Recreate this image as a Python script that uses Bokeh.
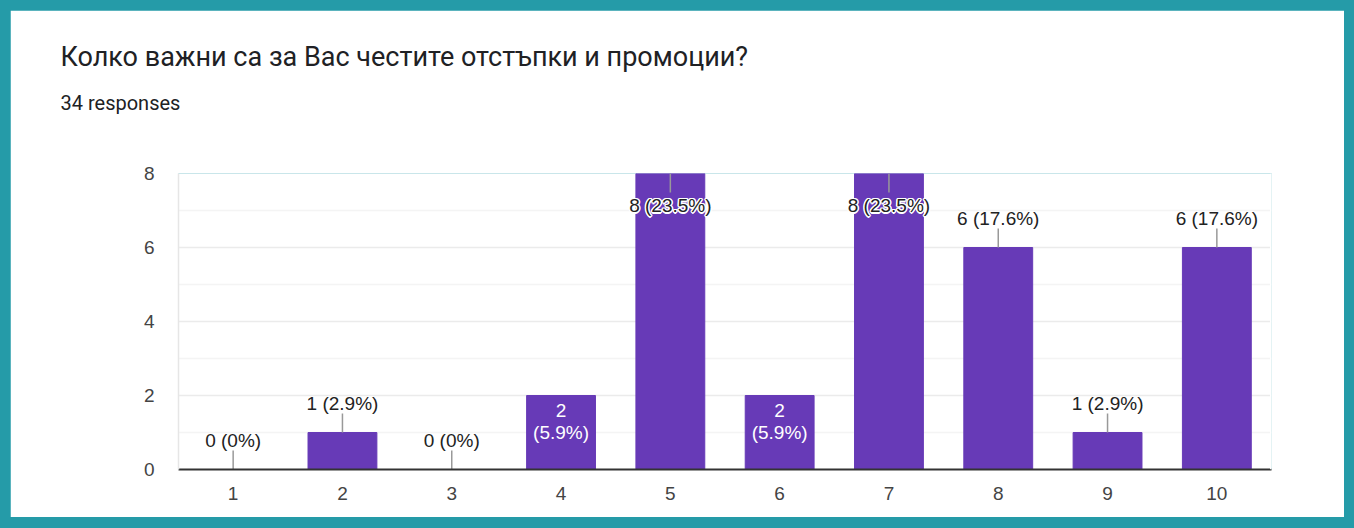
from bokeh.plotting import figure
from bokeh.models import (FactorRange, Range1d, FixedTicker, Title, ColumnDataSource,
                          GlobalInlineStyleSheet, Span)
from bokeh.core.properties import value
from bokeh.embed import file_html
from bokeh.resources import INLINE

# ---- data ----
categories = ["1", "2", "3", "4", "5", "6", "7", "8", "9", "10"]
counts = [0, 1, 0, 2, 8, 2, 8, 6, 1, 6]
total_responses = 34
y_ticks = [0, 2, 4, 6, 8]
y_minor_ticks = [1, 3, 5, 7]
title_text = "Колко важни са за Вас честите отстъпки и промоции?"
subtitle_text = f"{total_responses} responses"

# ---- style ----
TEAL = "#259BA8"
PURPLE = "#673AB7"
W, H = 1334, 507
ML, MT, MR, MB = 168, 163, 73, 48
frame_h = H - MT - MB
y_min, y_max = 0, 8
ppu = frame_h / (y_max - y_min)
lead = 19 / ppu
CHART_FONT = "Liberation Sans"

css = GlobalInlineStyleSheet(css=f"body {{ margin: 0; padding: 10px; background: {TEAL}; }}")

p = figure(x_range=FactorRange(*categories), y_range=Range1d(y_min, y_max),
           width=W, height=H, output_backend="svg", toolbar_location=None, title=None,
           min_border_left=ML, min_border_top=MT, min_border_right=MR, min_border_bottom=MB,
           background_fill_color="white", border_fill_color="white")
p.stylesheets = [css]
p.outline_line_color = None
p.outline_line_alpha = 0
p.outline_line_width = 0

# grid
p.xgrid.visible = False
p.ygrid.grid_line_color = "#ebebeb"
p.ygrid.grid_line_width = 1.5
p.ygrid.minor_grid_line_color = "#f4f4f4"
p.ygrid.minor_grid_line_width = 1.5

# mask any frame edge line on the right
p.add_layout(Span(location=len(categories), dimension="height", line_color="white",
                  line_width=3, level="overlay"))

# axes
p.yaxis.ticker = FixedTicker(ticks=y_ticks, minor_ticks=y_minor_ticks)
p.yaxis.axis_line_color = "#e6e6e6"
p.yaxis.axis_line_width = 1.5
p.yaxis.major_tick_line_color = None
p.yaxis.minor_tick_line_color = None
p.yaxis.major_label_standoff = 18
p.yaxis.major_label_text_font = CHART_FONT
p.yaxis.major_label_text_font_size = "19px"
p.yaxis.major_label_text_color = "#444444"

p.xaxis.axis_line_color = "#333333"
p.xaxis.axis_line_width = 2
p.xaxis.major_tick_line_color = None
p.xaxis.minor_tick_line_color = None
p.xaxis.major_label_standoff = 11
p.xaxis.major_label_text_font = CHART_FONT
p.xaxis.major_label_text_font_size = "19px"
p.xaxis.major_label_text_color = "#444444"

# bars
src = ColumnDataSource(dict(x=categories, top=counts))
p.vbar(x="x", top="top", width=0.63, source=src, fill_color=PURPLE,
       line_color=PURPLE, line_width=1)

# labels
def pct_str(v):
    pct = v / total_responses * 100
    return "0%" if pct == 0 else f"{pct:.1f}%"

above = dict(x=[], y=[], text=[])
top_in = dict(x=[], y=[], text=[])
inside1 = dict(x=[], y=[], text=[])
inside2 = dict(x=[], y=[], text=[])
seg = dict(x0=[], y0=[], x1=[], y1=[])
for c, v in zip(categories, counts):
    lab = f"{v} ({pct_str(v)})"
    if v >= y_max:
        top_in["x"].append(c); top_in["y"].append(v - lead); top_in["text"].append(lab)
        seg["x0"].append(c); seg["x1"].append(c); seg["y0"].append(v); seg["y1"].append(v - lead)
    elif v == 2:
        inside1["x"].append(c); inside1["y"].append(v); inside1["text"].append(str(v))
        inside2["x"].append(c); inside2["y"].append(v); inside2["text"].append(f"({pct_str(v)})")
    else:
        above["x"].append(c); above["y"].append(v + lead); above["text"].append(lab)
        seg["x0"].append(c); seg["x1"].append(c); seg["y0"].append(v); seg["y1"].append(v + lead)

p.segment(x0="x0", y0="y0", x1="x1", y1="y1", source=ColumnDataSource(seg),
          line_color="#999999", line_width=1.5)

tf = value(CHART_FONT)
p.text(x="x", y="y", text="text", source=ColumnDataSource(above), y_offset=-10,
       text_align="center", text_baseline="alphabetic", text_font=tf,
       text_font_size="19px", text_color="#222222")

# halo for labels inside the tallest bars
for dx, dy in [(-1.5, 0), (1.5, 0), (0, -1.5), (0, 1.5), (-1, -1), (1, 1), (-1, 1), (1, -1)]:
    p.text(x="x", y="y", text="text", source=ColumnDataSource(top_in), x_offset=dx, y_offset=13 + dy,
           text_align="center", text_baseline="alphabetic", text_font=tf,
           text_font_size="19px", text_color="white")
p.text(x="x", y="y", text="text", source=ColumnDataSource(top_in), y_offset=13,
       text_align="center", text_baseline="alphabetic", text_font=tf,
       text_font_size="19px", text_color="#222222")

p.text(x="x", y="y", text="text", source=ColumnDataSource(inside1), y_offset=15,
       text_align="center", text_baseline="alphabetic", text_font=tf,
       text_font_size="19px", text_color="white")
p.text(x="x", y="y", text="text", source=ColumnDataSource(inside2), y_offset=37,
       text_align="center", text_baseline="alphabetic", text_font=tf,
       text_font_size="19px", text_color="white")

# title & subtitle (first added sits nearest the frame)
p.add_layout(Title(text=subtitle_text, text_font="Roboto", text_font_size="20px",
                   text_font_style="normal", text_color="#202124", align="left",
                   offset=-118, standoff=118), "above")
p.add_layout(Title(text=title_text, text_font="Roboto", text_font_size="27px",
                   text_font_style="normal", text_color="#202124", align="left",
                   offset=-118, standoff=-87), "above")

open("out.html", "w").write(file_html(p, INLINE))
